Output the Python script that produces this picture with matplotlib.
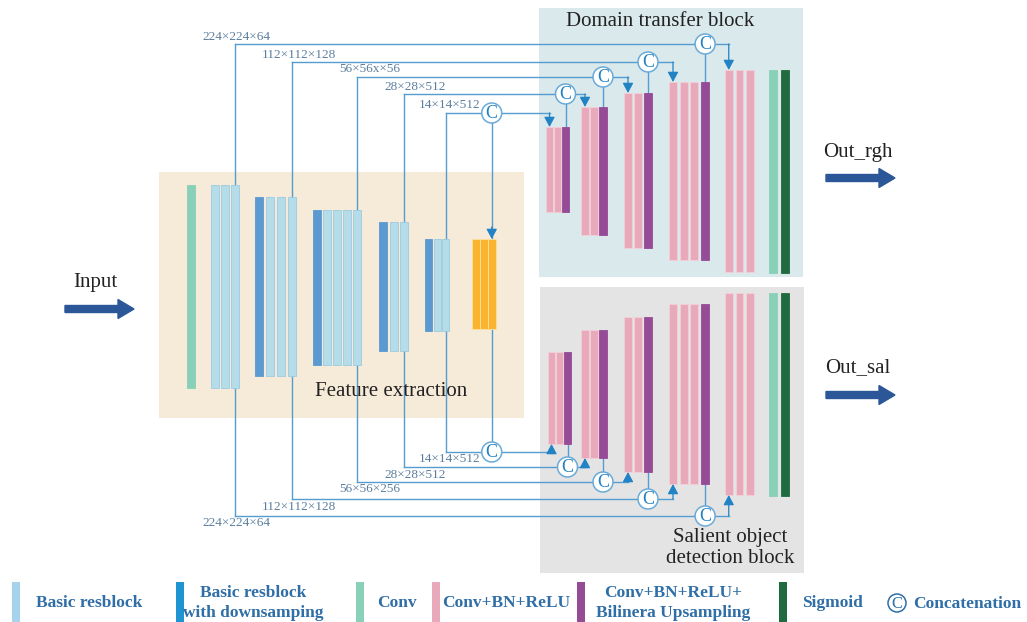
import matplotlib
matplotlib.use('Agg')
import matplotlib.pyplot as plt
from matplotlib.patches import Rectangle, Circle, FancyArrow

plt.rcParams['font.family'] = ['Liberation Serif', 'DejaVu Serif']

# ---- encoder: bar kinds per group and extent of each group (pixels)
enc_kinds = [['conv'], ['res'] * 3, ['down'] + ['res'] * 3, ['down'] + ['res'] * 4,
             ['down', 'res', 'res'], ['down', 'res', 'res'], ['bridge'] * 3]
enc_left = [187, 211, 255, 313, 379, 425, 472]
enc_pitch = [8, 10, 11, 10, 10.5, 8.5, 8]
enc_width = [8, 8, 8, 8, 8, 7, 7.5]
enc_top = [185, 185, 197, 210, 222, 239, 239]
enc_bottom = [388, 388, 376, 365, 351, 331, 329]

# ---- decoders (roughness branch on top, saliency branch below)
dec_kinds = [['cbr', 'cbr', 'up'], ['cbr', 'cbr', 'up'], ['cbr', 'cbr', 'up'],
             ['cbr'] * 3 + ['up'], ['cbr'] * 3, ['conv'], ['sig']]
dec_left = [546, 581, 624, 669, 725, 769, 781]
dec_pitch = [8, 9, 10, 10.7, 10.5, 8, 8]
dec_width = [7, 8, 8, 8, 7.5, 8, 8]
rgh_top = [127, 107, 93, 82, 70, 70, 70]
rgh_bottom = [212, 235, 248, 260, 272, 273, 273]
sal_top = [352, 330, 317, 304, 293, 293, 293]
sal_bottom = [444, 458, 472, 484, 495, 496, 496]

# ---- skip connections
skip_top_labels = ['224×224×64', '112×112×128', '56×56x×56', '28×28×512', '14×14×512']
skip_bot_labels = ['224×224×64', '112×112×128', '56×56×256', '28×28×512', '14×14×512']
skip_top_y = [44, 62, 77, 94, 113]
skip_bot_y = [516, 499, 482, 467, 452]
skip_label_x = [236, 299, 370, 415, 450]

legend_kinds = ['res_lg', 'down_lg', 'conv', 'cbr', 'up', 'sig']
legend_labels = ['Basic resblock', 'Basic resblock\nwith downsamping', 'Conv', 'Conv+BN+ReLU',
                 'Conv+BN+ReLU+\nBilinera Upsampling', 'Sigmoid']

FILL = {'conv': '#88D0B8', 'res': '#B5DDE9', 'down': '#5A9AD0', 'bridge': '#FBB430',
        'cbr': '#E8A9BB', 'up': '#964B96', 'sig': '#1F6B3F',
        'res_lg': '#A6D3EC', 'down_lg': '#1E95D2'}
EDGE = {'conv': '#88D0B8', 'res': '#9CCBE0', 'down': '#5A9AD0', 'bridge': '#FBE0A0',
        'cbr': '#F3D0DA', 'up': '#964B96', 'sig': '#1F6B3F',
        'res_lg': '#A6D3EC', 'down_lg': '#1E95D2'}
LINE = '#559DD0'
ARROW = '#2182C4'
LABEL = '#5B7E9E'
BIG = '#2B5798'
LEG = '#2F6EA6'

fig = plt.figure(figsize=(10.27, 6.22), dpi=100)
ax = fig.add_axes([0, 0, 1, 1])
ax.set_xlim(0, 1027)
ax.set_ylim(622, 0)
ax.axis('off')

# background blocks
ax.add_patch(Rectangle((159, 172), 365, 246, facecolor='#F6EAD8', edgecolor='none', zorder=0))
ax.add_patch(Rectangle((539, 8), 264, 269, facecolor='#DAE9EC', edgecolor='none', zorder=0))
ax.add_patch(Rectangle((540, 287), 264, 286, facecolor='#E4E4E4', edgecolor='none', zorder=0))


def draw_group(left, pitch, width, top, bottom, kinds):
    centers = []
    for j, k in enumerate(kinds):
        x = left + j * pitch
        ax.add_patch(Rectangle((x, top), width, bottom - top, facecolor=FILL[k],
                               edgecolor=EDGE[k], lw=0.6, zorder=2))
        centers.append(x + width / 2)
    return centers


def concat(x, y, r=10, color=ARROW, edge='#6AAAD8', size=13):
    ax.add_patch(Circle((x, y), r, facecolor='white', edgecolor=edge, lw=1.1, zorder=3))
    ax.text(x, y + 0.5, 'C', ha='center', va='center', fontsize=size, color=color, zorder=4)


def arrow_v(x, y0, y1):
    ax.annotate('', xy=(x, y1), xytext=(x, y0), zorder=3,
                arrowprops=dict(arrowstyle='-|>,head_length=0.6,head_width=0.32',
                                color=ARROW, lw=0.9, shrinkA=0, shrinkB=0))


enc_x = []
for i in range(len(enc_kinds)):
    enc_x.append(draw_group(enc_left[i], enc_pitch[i], enc_width[i],
                            enc_top[i], enc_bottom[i], enc_kinds[i]))

rgh_x, sal_x = [], []
for i in range(len(dec_kinds)):
    rgh_x.append(draw_group(dec_left[i], dec_pitch[i], dec_width[i],
                            rgh_top[i], rgh_bottom[i], dec_kinds[i]))
    sal_x.append(draw_group(dec_left[i] + (2 if i == 0 else 0), dec_pitch[i], dec_width[i],
                            sal_top[i], sal_bottom[i], dec_kinds[i]))

# skip connections
for i in range(5):
    xe = enc_x[i + 1][-1]
    yt, yb = skip_top_y[i], skip_bot_y[i]
    feed = 4 - i
    if i == 4:
        xct = xcb = enc_x[6][-1]
    else:
        xct = rgh_x[3 - i][-1]
        xcb = sal_x[3 - i][-1]
    # encoder vertical + horizontal runs
    ax.plot([xe, xe], [yt, yb], color=LINE, lw=1.0, zorder=1)
    ax.plot([xe, xct], [yt, yt], color=LINE, lw=1.0, zorder=1)
    ax.plot([xe, xcb], [yb, yb], color=LINE, lw=1.0, zorder=1)
    # from concat to the next decoder stage
    ft = rgh_x[feed][0]
    fb = sal_x[feed][0]
    ax.plot([xct, ft], [yt, yt], color=LINE, lw=1.0, zorder=1)
    ax.plot([xcb, fb], [yb, yb], color=LINE, lw=1.0, zorder=1)
    arrow_v(ft, yt, rgh_top[feed])
    arrow_v(fb, yb, sal_bottom[feed])
    # from previous stage into concat
    if i == 4:
        ax.plot([xct, xct], [yt, yb], color=LINE, lw=1.0, zorder=1)
        arrow_v(xct, enc_top[6] - 12, enc_top[6])
    else:
        ax.plot([xct, xct], [yt, rgh_top[3 - i]], color=LINE, lw=1.0, zorder=1)
        ax.plot([xcb, xcb], [yb, sal_bottom[3 - i]], color=LINE, lw=1.0, zorder=1)
    concat(xct, yt)
    concat(xcb, yb)
    ax.text(skip_label_x[i], yt - 1.5, skip_top_labels[i], ha='center', va='bottom',
            fontsize=9.5, color=LABEL, zorder=4)
    ax.text(skip_label_x[i], yb + 1.5, skip_bot_labels[i], ha='center', va='top',
            fontsize=9.5, color=LABEL, zorder=4)

# block titles
ax.text(660, 22, 'Domain transfer block', ha='center', va='center', fontsize=15, color='#222222')
ax.text(391, 391, 'Feature extraction', ha='center', va='center', fontsize=15, color='#222222')
ax.text(730, 548, 'Salient object\ndetection block', ha='center', va='center', fontsize=15,
        color='#222222', linespacing=1.15)

# input / outputs
ax.text(95, 282, 'Input', ha='center', va='center', fontsize=15, color='#222222')
ax.add_patch(FancyArrow(65, 309, 69, 0, width=7, head_width=19, head_length=16,
                        length_includes_head=True, color=BIG, zorder=3))
for lbl, ty, ay in [('Out_rgh', 152, 178), ('Out_sal', 368, 395)]:
    ax.text(858, ty, lbl, ha='center', va='center', fontsize=15, color='#222222')
    ax.add_patch(FancyArrow(826, ay, 69, 0, width=7, head_width=19, head_length=16,
                            length_includes_head=True, color=BIG, zorder=3))

# legend
leg_bar_x = [12, 176, 356, 432, 577, 779]
leg_text_x = [36, 253, 377, 442, 673, 802]
leg_ha = ['left', 'center', 'left', 'left', 'center', 'left']
for k, lbl, bx, tx, ha in zip(legend_kinds, legend_labels, leg_bar_x, leg_text_x, leg_ha):
    ax.add_patch(Rectangle((bx, 582), 8, 45, facecolor=FILL[k], edgecolor='none', zorder=2))
    ax.text(tx, 603, lbl, ha=ha, va='center', fontsize=12.5, fontweight='bold', color=LEG,
            linespacing=1.3)
concat(897, 603, r=9, color=LEG, edge=LEG, size=12)
ax.text(913, 604, 'Concatenation', ha='left', va='center', fontsize=12.5, fontweight='bold',
        color=LEG)

fig.savefig('out.png', dpi=100)
